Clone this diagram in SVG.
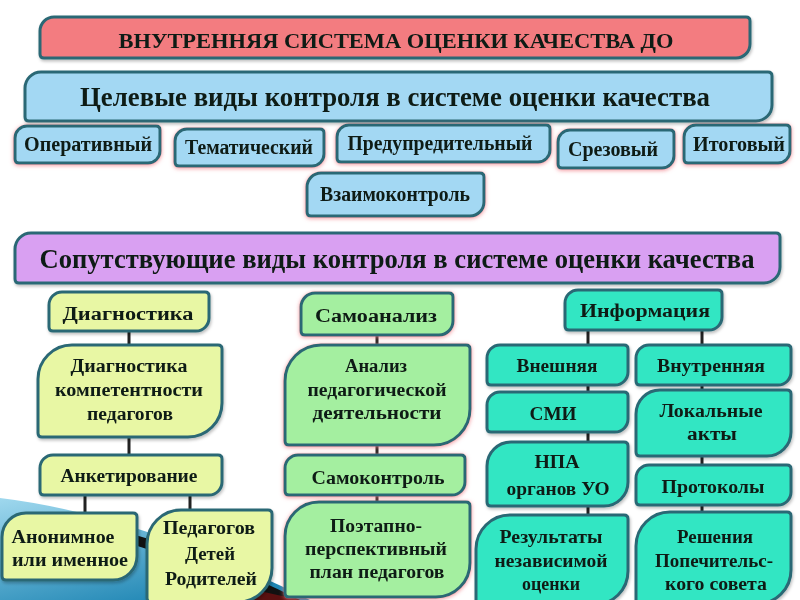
<svg xmlns="http://www.w3.org/2000/svg" width="800" height="600" viewBox="0 0 800 600">
<defs>
<linearGradient id="bg" x1="0" y1="0" x2="0.6" y2="1">
<stop offset="0" stop-color="#9fd8ee"/>
<stop offset="1" stop-color="#1f86b4"/>
</linearGradient>
<filter id="glow" x="-10%" y="-20%" width="120%" height="150%">
<feDropShadow dx="0" dy="1" stdDeviation="2" flood-color="#f0707a" flood-opacity="0.75"/>
</filter>
<filter id="shadow" x="-10%" y="-20%" width="120%" height="150%">
<feDropShadow dx="1" dy="2" stdDeviation="1.5" flood-color="#000" flood-opacity="0.25"/>
</filter>
</defs>
<style>
.b{stroke:#2b6874;stroke-width:3;stroke-linejoin:round}
.pink{fill:#f37b80}
.blue{fill:#a3d8f3}
.purple{fill:#d9a0f2}
.yg{fill:#e8f7a4}
.gr{fill:#a4efa0}
.aq{fill:#33e6c3}
text{font-family:"Liberation Serif","DejaVu Serif",serif;font-weight:bold;fill:#111a14;text-anchor:middle}
.t17{font-size:18.5px}
.r{font-size:20px}
.t19{font-size:22px}
.t25{font-size:27px}
.c{stroke:#222;stroke-width:3;fill:none}
</style>
<rect width="800" height="600" fill="#ffffff"/>
<g id="decor">
<path d="M0 498 Q140 515 310 600 L0 600 Z" fill="url(#bg)"/>
<path d="M125 532 Q210 555 300 600 L280 600 Q200 565 125 542 Z" fill="#111"/>
<path d="M255 590 L300 600 L250 600 Z" fill="#5a1010"/>
</g>
<g id="connectors">
<path class="c" d="M129 331V345M129 437V455M85 495V513M190 495V510M377 335V345M377 445V455M377 495V502M588 330V345M588 385V392M588 432V442M588 506V515M702 330V345M702 385V390M702 456V465M702 505V512"/>
</g>
<g id="title" filter="url(#shadow)"><path class="b pink" d="M54 17H746Q750 17 750 21V44A14 14 0 0 1 736 58H44Q40 58 40 54V31A14 14 0 0 1 54 17Z"/><text class="t19" x="396" y="48" textLength="555" lengthAdjust="spacingAndGlyphs">ВНУТРЕННЯЯ СИСТЕМА ОЦЕНКИ КАЧЕСТВА ДО</text></g>
<g id="target" filter="url(#shadow)"><path class="b blue" d="M41 72H768Q772 72 772 76V105A16 16 0 0 1 756 121H29Q25 121 25 117V88A16 16 0 0 1 41 72Z"/><text class="t25" x="395" y="106" textLength="630" lengthAdjust="spacingAndGlyphs">Целевые виды контроля в системе оценки качества</text></g>
<g id="operativ" filter="url(#glow)"><path class="b blue" d="M27 126H156Q160 126 160 130V151A12 12 0 0 1 148 163H19Q15 163 15 159V138A12 12 0 0 1 27 126Z"/><text class="r" x="88" y="151" textLength="128" lengthAdjust="spacingAndGlyphs">Оперативный</text></g>
<g id="tematic" filter="url(#glow)"><path class="b blue" d="M187 129H320Q324 129 324 133V154A12 12 0 0 1 312 166H179Q175 166 175 162V141A12 12 0 0 1 187 129Z"/><text class="r" x="249" y="154" textLength="128" lengthAdjust="spacingAndGlyphs">Тематический</text></g>
<g id="preduprel" filter="url(#glow)"><path class="b blue" d="M349 125H546Q550 125 550 129V150A12 12 0 0 1 538 162H341Q337 162 337 158V137A12 12 0 0 1 349 125Z"/><text class="r" x="440" y="150" textLength="185" lengthAdjust="spacingAndGlyphs">Предупредительный</text></g>
<g id="srez" filter="url(#glow)"><path class="b blue" d="M570 130H670Q674 130 674 134V156A12 12 0 0 1 662 168H562Q558 168 558 164V142A12 12 0 0 1 570 130Z"/><text class="r" x="613" y="156" textLength="90" lengthAdjust="spacingAndGlyphs">Срезовый</text></g>
<g id="itog" filter="url(#glow)"><path class="b blue" d="M696 125H786Q790 125 790 129V151A12 12 0 0 1 778 163H688Q684 163 684 159V137A12 12 0 0 1 696 125Z"/><text class="r" x="739" y="151" textLength="92" lengthAdjust="spacingAndGlyphs">Итоговый</text></g>
<g id="vzaimo" filter="url(#glow)"><path class="b blue" d="M321 173H480Q484 173 484 177V202A14 14 0 0 1 470 216H311Q307 216 307 212V187A14 14 0 0 1 321 173Z"/><text class="r" x="395" y="201" textLength="150" lengthAdjust="spacingAndGlyphs">Взаимоконтроль</text></g>
<g id="soput" filter="url(#shadow)"><path class="b purple" d="M31 233H776Q780 233 780 237V267A16 16 0 0 1 764 283H19Q15 283 15 279V249A16 16 0 0 1 31 233Z"/><text class="t25" x="397" y="268" textLength="715" lengthAdjust="spacingAndGlyphs">Сопутствующие виды контроля в системе оценки качества</text></g>
<g id="diag" filter="url(#shadow)"><path class="b yg" d="M62 292H205Q209 292 209 296V318A13 13 0 0 1 196 331H53Q49 331 49 327V305A13 13 0 0 1 62 292Z"/><text class="t17" x="128" y="320" textLength="131" lengthAdjust="spacingAndGlyphs">Диагностика</text></g>
<g id="diagkomp" filter="url(#shadow)"><path class="b yg" d="M72 345H218Q222 345 222 349V403A34 34 0 0 1 188 437H42Q38 437 38 433V379A34 34 0 0 1 72 345Z"/><text class="t17" x="129" y="372" textLength="117" lengthAdjust="spacingAndGlyphs">Диагностика</text><text class="t17" x="129" y="396" textLength="148" lengthAdjust="spacingAndGlyphs">компетентности</text><text class="t17" x="130" y="420" textLength="86" lengthAdjust="spacingAndGlyphs">педагогов</text></g>
<g id="anket" filter="url(#shadow)"><path class="b yg" d="M53 455H218Q222 455 222 459V482A13 13 0 0 1 209 495H44Q40 495 40 491V468A13 13 0 0 1 53 455Z"/><text class="t17" x="129" y="482" textLength="137" lengthAdjust="spacingAndGlyphs">Анкетирование</text></g>
<g id="anonim" filter="url(#shadow)"><path class="b yg" d="M26 513H133Q137 513 137 517V556A24 24 0 0 1 113 580H6Q2 580 2 576V537A24 24 0 0 1 26 513Z"/><text class="t17" x="63" y="543" textLength="103" lengthAdjust="spacingAndGlyphs">Анонимное</text><text class="t17" x="70" y="566" textLength="116" lengthAdjust="spacingAndGlyphs">или именное</text></g>
<g id="pedagog" filter="url(#shadow)"><path class="b yg" d="M181 510H268Q272 510 272 514V568A34 34 0 0 1 238 602H151Q147 602 147 598V544A34 34 0 0 1 181 510Z"/><text class="t17" x="209" y="534" textLength="92" lengthAdjust="spacingAndGlyphs">Педагогов</text><text class="t17" x="210" y="560" textLength="50" lengthAdjust="spacingAndGlyphs">Детей</text><text class="t17" x="211" y="585" textLength="92" lengthAdjust="spacingAndGlyphs">Родителей</text></g>
<g id="samoanaliz" filter="url(#glow)"><path class="b gr" d="M315 293H449Q453 293 453 297V321A14 14 0 0 1 439 335H305Q301 335 301 331V307A14 14 0 0 1 315 293Z"/><text class="t17" x="376" y="322" textLength="122" lengthAdjust="spacingAndGlyphs">Самоанализ</text></g>
<g id="analiz" filter="url(#glow)"><path class="b gr" d="M321 345H466Q470 345 470 349V409A36 36 0 0 1 434 445H289Q285 445 285 441V381A36 36 0 0 1 321 345Z"/><text class="t17" x="376" y="372" textLength="62" lengthAdjust="spacingAndGlyphs">Анализ</text><text class="t17" x="377" y="396" textLength="139" lengthAdjust="spacingAndGlyphs">педагогической</text><text class="t17" x="377" y="419" textLength="129" lengthAdjust="spacingAndGlyphs">деятельности</text></g>
<g id="samokontrol" filter="url(#glow)"><path class="b gr" d="M298 455H461Q465 455 465 459V482A13 13 0 0 1 452 495H289Q285 495 285 491V468A13 13 0 0 1 298 455Z"/><text class="t17" x="378" y="484" textLength="133" lengthAdjust="spacingAndGlyphs">Самоконтроль</text></g>
<g id="poetapno" filter="url(#glow)"><path class="b gr" d="M319 502H466Q470 502 470 506V563A34 34 0 0 1 436 597H289Q285 597 285 593V536A34 34 0 0 1 319 502Z"/><text class="t17" x="376" y="532" textLength="92" lengthAdjust="spacingAndGlyphs">Поэтапно-</text><text class="t17" x="376" y="555" textLength="142" lengthAdjust="spacingAndGlyphs">перспективный</text><text class="t17" x="377" y="578" textLength="135" lengthAdjust="spacingAndGlyphs">план педагогов</text></g>
<g id="info" filter="url(#shadow)"><path class="b aq" d="M578 290H718Q722 290 722 294V317A13 13 0 0 1 709 330H569Q565 330 565 326V303A13 13 0 0 1 578 290Z"/><text class="t17" x="645" y="317" textLength="130" lengthAdjust="spacingAndGlyphs">Информация</text></g>
<g id="vneshn" filter="url(#shadow)"><path class="b aq" d="M500 345H624Q628 345 628 349V372A13 13 0 0 1 615 385H491Q487 385 487 381V358A13 13 0 0 1 500 345Z"/><text class="t17" x="557" y="372" textLength="81" lengthAdjust="spacingAndGlyphs">Внешняя</text></g>
<g id="vnutr" filter="url(#shadow)"><path class="b aq" d="M649 345H787Q791 345 791 349V372A13 13 0 0 1 778 385H640Q636 385 636 381V358A13 13 0 0 1 649 345Z"/><text class="t17" x="711" y="372" textLength="108" lengthAdjust="spacingAndGlyphs">Внутренняя</text></g>
<g id="smi" filter="url(#shadow)"><path class="b aq" d="M500 392H624Q628 392 628 396V419A13 13 0 0 1 615 432H491Q487 432 487 428V405A13 13 0 0 1 500 392Z"/><text class="t17" x="553" y="420" textLength="47" lengthAdjust="spacingAndGlyphs">СМИ</text></g>
<g id="lokal" filter="url(#shadow)"><path class="b aq" d="M660 390H787Q791 390 791 394V432A24 24 0 0 1 767 456H640Q636 456 636 452V414A24 24 0 0 1 660 390Z"/><text class="t17" x="711" y="417" textLength="103" lengthAdjust="spacingAndGlyphs">Локальные</text><text class="t17" x="712" y="440" textLength="50" lengthAdjust="spacingAndGlyphs">акты</text></g>
<g id="npa" filter="url(#shadow)"><path class="b aq" d="M511 442H624Q628 442 628 446V482A24 24 0 0 1 604 506H491Q487 506 487 502V466A24 24 0 0 1 511 442Z"/><text class="t17" x="557" y="468" textLength="45" lengthAdjust="spacingAndGlyphs">НПА</text><text class="t17" x="558" y="495" textLength="103" lengthAdjust="spacingAndGlyphs">органов УО</text></g>
<g id="protokol" filter="url(#shadow)"><path class="b aq" d="M649 465H787Q791 465 791 469V492A13 13 0 0 1 778 505H640Q636 505 636 501V478A13 13 0 0 1 649 465Z"/><text class="t17" x="713" y="493" textLength="103" lengthAdjust="spacingAndGlyphs">Протоколы</text></g>
<g id="rezult" filter="url(#shadow)"><path class="b aq" d="M510 515H624Q628 515 628 519V571A34 34 0 0 1 594 605H480Q476 605 476 601V549A34 34 0 0 1 510 515Z"/><text class="t17" x="551" y="543" textLength="103" lengthAdjust="spacingAndGlyphs">Результаты</text><text class="t17" x="551" y="567" textLength="113" lengthAdjust="spacingAndGlyphs">независимой</text><text class="t17" x="551" y="590" textLength="58" lengthAdjust="spacingAndGlyphs">оценки</text></g>
<g id="reshen" filter="url(#shadow)"><path class="b aq" d="M670 512H787Q791 512 791 516V570A34 34 0 0 1 757 604H640Q636 604 636 600V546A34 34 0 0 1 670 512Z"/><text class="t17" x="715" y="543" textLength="76" lengthAdjust="spacingAndGlyphs">Решения</text><text class="t17" x="714" y="567" textLength="118" lengthAdjust="spacingAndGlyphs">Попечительс-</text><text class="t17" x="716" y="590" textLength="102" lengthAdjust="spacingAndGlyphs">кого совета</text></g>
</svg>
